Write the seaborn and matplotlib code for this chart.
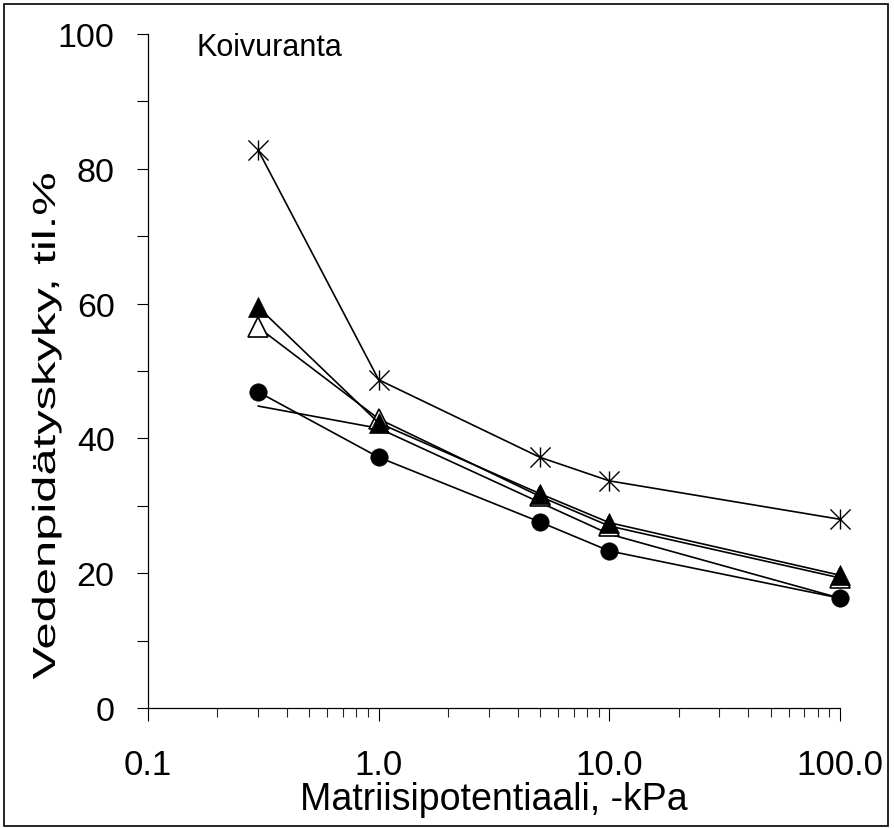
import matplotlib
matplotlib.use("Agg")
import matplotlib.pyplot as plt
import seaborn as sns
import numpy as np
from matplotlib.path import Path
from matplotlib.patches import Rectangle
from matplotlib.ticker import MultipleLocator, LogLocator, NullFormatter
from matplotlib.patheffects import AbstractPathEffect
from matplotlib.transforms import Affine2D

# ---- data ----
potential = [0.3, 1.0, 5.0, 10.0, 100.0]
series_star = [82.8, 48.7, 37.2, 33.7, 28.0]
series_open_tri = [56.5, 42.9, 31.4, 27.0, 19.3]
series_filled_tri = [59.5, 42.3, 31.8, 27.5, 19.7]
series_circle = [46.9, 37.2, 27.6, 23.3, 16.3]
series_plain = [44.8, 41.5, 30.5, 25.8, 16.3]

xticks = [0.1, 1, 10, 100]
xticklabels = ["0.1", "1.0", "10.0", "100.0"]
yticks = [0, 20, 40, 60, 80, 100]
yticklabels = ["0", "20", "40", "60", "80", "100"]

title_text = "Koivuranta"
xlabel = "Matriisipotentiaali, -kPa"
ylabel = "Vedenpidätyskyky, til.%"


class Stretch(AbstractPathEffect):
    """Scale rendered text about its own centre (text stays a Text artist)."""

    def __init__(self, sx=1.0, sy=1.0):
        super().__init__()
        self.sx, self.sy = sx, sy

    def draw_path(self, renderer, gc, tpath, affine, rgbFace=None):
        ext = tpath.get_extents(affine)
        cx, cy = (ext.x0 + ext.x1) / 2, (ext.y0 + ext.y1) / 2
        t = affine + Affine2D().translate(-cx, -cy).scale(self.sx, self.sy).translate(cx, cy)
        renderer.draw_path(gc, tpath, t, rgbFace)


sns.set_theme(style="ticks")
plt.rcParams["font.family"] = ["Liberation Sans", "DejaVu Sans"]

W, H = 895, 829
fig = plt.figure(figsize=(W / 100, H / 100), dpi=100)
ax = fig.add_axes([148 / W, 1 - 709 / H, (840 - 148) / W, (709 - 35) / H])
ax.set_facecolor("white")

asterisk = Path(
    [(-1, -1), (1, 1), (-1, 1), (1, -1), (0, -1), (0, 1)],
    [Path.MOVETO, Path.LINETO, Path.MOVETO, Path.LINETO, Path.MOVETO, Path.LINETO],
)

lw = 1.2
common = dict(ax=ax, color="black", linewidth=lw, sort=False, estimator=None,
              clip_on=False)

sns.lineplot(x=potential, y=series_plain, **common)
sns.lineplot(x=potential, y=series_star, marker=asterisk, markersize=14.5,
             markerfacecolor="none", markeredgecolor="black",
             markeredgewidth=1.0, **common)
sns.lineplot(x=potential, y=series_circle, marker="o", markersize=12.5,
             markerfacecolor="black", markeredgecolor="black",
             markeredgewidth=0.5, **common)
sns.lineplot(x=potential, y=series_open_tri, marker="^", markersize=14,
             markerfacecolor="white", markeredgecolor="black",
             markeredgewidth=1.2, **common)
sns.lineplot(x=potential, y=series_filled_tri, marker="^", markersize=14,
             markerfacecolor="black", markeredgecolor="black",
             markeredgewidth=0.5, **common)

ax.set_xscale("log")
ax.set_xlim(0.1, 100)
ax.set_ylim(0, 100)

ax.set_xticks(xticks)
ax.set_xticklabels(xticklabels)
ax.xaxis.set_minor_locator(LogLocator(base=10, subs=np.arange(2, 10)))
ax.xaxis.set_minor_formatter(NullFormatter())
ax.set_yticks(yticks)
ax.set_yticklabels(yticklabels)
ax.yaxis.set_minor_locator(MultipleLocator(10))

ax.tick_params(axis="y", which="both", direction="out", length=8, width=0.8,
               pad=16, labelsize=24.5, colors="black")
ax.tick_params(axis="x", which="major", direction="out", length=9.5, width=0.8,
               pad=19, labelsize=25, colors="black")
ax.tick_params(axis="x", which="minor", direction="out", length=6.5, width=0.8)

for s in ["top", "right"]:
    ax.spines[s].set_visible(False)
for s in ["left", "bottom"]:
    ax.spines[s].set_color("black")
    ax.spines[s].set_linewidth(0.9)

ax.set_xlabel(xlabel, fontsize=27, labelpad=0, color="black")
ylab = ax.set_ylabel(ylabel, fontsize=23, color="black", va="center")
ax.yaxis.set_label_coords(-0.146, (709 - 427) / (709 - 35))
ylab.set_path_effects([Stretch(1.0, 1.53)])

ax.text(197 / W, 1 - 48 / H, title_text, transform=fig.transFigure,
        fontsize=22, ha="left", va="center", color="black")

fig.patches.append(Rectangle((0.005, 0.0025), 0.987, 0.992, transform=fig.transFigure,
                             fill=False, edgecolor="black", linewidth=1.2))

fig.savefig("out.png", dpi=100, facecolor="white")
